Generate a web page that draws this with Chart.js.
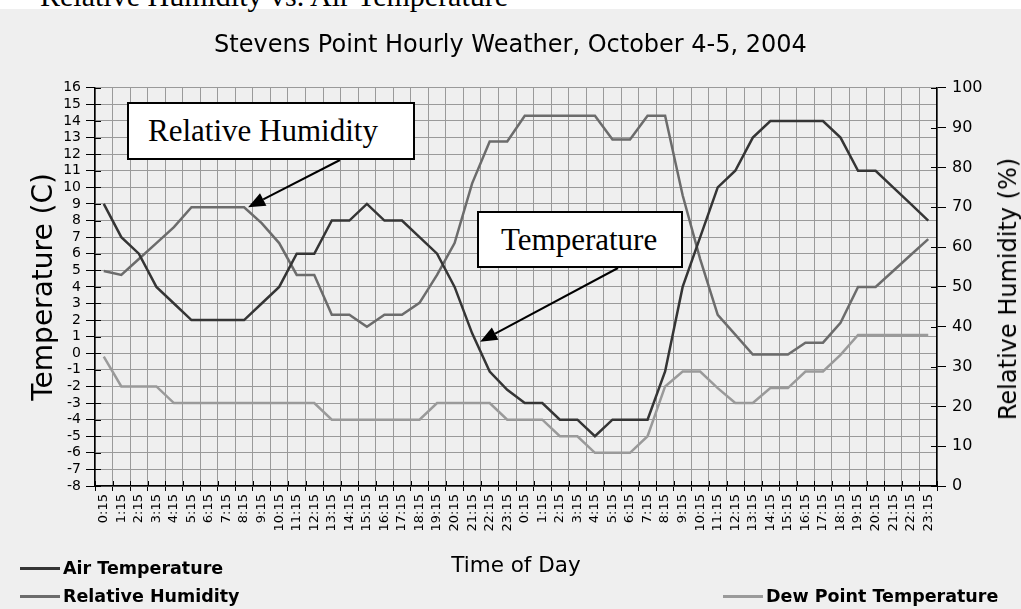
<!DOCTYPE html>
<html>
<head>
<meta charset="utf-8">
<script src="https://cdn.jsdelivr.net/npm/chart.js@4.4.1/dist/chart.umd.min.js"></script>
<style>
  html, body { margin: 0; padding: 0; }
  body {
    width: 1021px; height: 609px; overflow: hidden; position: relative;
    background: linear-gradient(#ffffff 0px, #ffffff 9px, #efefef 9px);
    font-family: 'DejaVu Sans', sans-serif;
  }
  #chart { position: absolute; left: 0; top: 0; }
  .caption {
    position: absolute; left: 40px; top: -19px; white-space: nowrap;
    font: 30px/30px 'Liberation Serif', serif; color: #000;
  }
  .callout {
    position: absolute; box-sizing: border-box; border: 2px solid #000; background: #fff;
    font: 31px 'Liberation Serif', serif; color: #000; white-space: nowrap;
    display: flex; align-items: center;
  }
  .ytitle-right {
    position: absolute; left: 1008px; top: 289px; white-space: nowrap;
    transform: translate(-50%, -50%) rotate(-90deg);
    font: 24px 'DejaVu Sans', sans-serif; color: #000;
  }
  .legend-item {
    position: absolute; display: flex; align-items: center; white-space: nowrap;
    font: bold 17.5px 'DejaVu Sans', sans-serif; color: #000; height: 20px;
  }
  .legend-item .swatch { display: inline-block; width: 40px; height: 3px; margin-right: 3px; }
</style>
</head>
<body>
<div class="caption">Relative Humidity vs. Air Temperature</div>
<canvas id="chart" width="1021" height="609"></canvas>
<div class="callout" style="left:127px; top:102px; width:288px; height:58px; padding-left:19px;">Relative Humidity</div>
<div class="callout" style="left:477px; top:211px; width:206px; height:57px; padding-left:22px;">Temperature</div>
<div class="ytitle-right">Relative Humidity (%)</div>
<div class="legend-item" style="left:20px; top:558px;"><span class="swatch" style="background:#353535"></span>Air Temperature</div>
<div class="legend-item" style="left:20px; top:586px;"><span class="swatch" style="background:#6c6c6c"></span>Relative Humidity</div>
<div class="legend-item" style="left:723px; top:586px;"><span class="swatch" style="background:#9a9a9a"></span>Dew Point Temperature</div>
<script>
const timeLabels = [
  "0:15", "1:15", "2:15", "3:15", "4:15", "5:15", "6:15", "7:15", "8:15", "9:15", "10:15", "11:15",
  "12:15", "13:15", "14:15", "15:15", "16:15", "17:15", "18:15", "19:15", "20:15", "21:15", "22:15", "23:15",
  "0:15", "1:15", "2:15", "3:15", "4:15", "5:15", "6:15", "7:15", "8:15", "9:15", "10:15", "11:15",
  "12:15", "13:15", "14:15", "15:15", "16:15", "17:15", "18:15", "19:15", "20:15", "21:15", "22:15", "23:15"
];

// degrees C
const airTemperature = [
  9, 7, 6, 4, 3, 2, 2, 2, 2, 3, 4, 6,
  6, 8, 8, 9, 8, 8, 7, 6, 4, 1.2, -1.1, -2.2,
  -3, -3, -4, -4, -5, -4, -4, -4, -1.1, 4, 7, 10,
  11, 13, 14, 14, 14, 14, 13, 11, 11, 10, 9, 8
];

// percent
const relativeHumidity = [
  54, 53, 57, 61, 65, 70, 70, 70, 70, 66, 61, 53,
  53, 43, 43, 40, 43, 43, 46, 53, 61, 76, 86.5, 86.5,
  93, 93, 93, 93, 93, 87, 87, 93, 93, 73, 57, 43,
  38, 33, 33, 33, 36, 36, 41, 50, 50, 54, 58, 62
];

// degrees C
const dewPoint = [
  -0.2, -2, -2, -2, -3, -3, -3, -3, -3, -3, -3, -3,
  -3, -4, -4, -4, -4, -4, -4, -3, -3, -3, -3, -4,
  -4, -4, -5, -5, -6, -6, -6, -5, -2, -1.1, -1.1, -2.1,
  -3, -3, -2.1, -2.1, -1.1, -1.1, -0.1, 1.1, 1.1, 1.1, 1.1, 1.1
];

const tempMin = -8, tempMax = 16, tempStep = 1;
const humidityMin = 0, humidityMax = 100, humidityStep = 10;

const AXIS_FONT = 'DejaVu Sans';
const GRID = '#9a9a9a';

function drawArrow(ctx, x0, y0, x1, y1) {
  const ang = Math.atan2(y1 - y0, x1 - x0);
  const len = 17, half = 7;
  const bx = x1 - Math.cos(ang) * len, by = y1 - Math.sin(ang) * len;
  ctx.beginPath();
  ctx.moveTo(x0, y0);
  ctx.lineTo(bx, by);
  ctx.stroke();
  ctx.beginPath();
  ctx.moveTo(x1, y1);
  ctx.lineTo(bx + Math.sin(ang) * half, by - Math.cos(ang) * half);
  ctx.lineTo(bx - Math.sin(ang) * half, by + Math.cos(ang) * half);
  ctx.closePath();
  ctx.fill();
}

// inner halves of the cross ticks, plus the callout arrows
const decorPlugin = {
  id: 'decor',
  beforeDatasetsDraw(chart) {
    const { ctx, chartArea, scales } = chart;
    ctx.save();
    ctx.strokeStyle = '#000';
    ctx.lineWidth = 1;
    ctx.beginPath();
    scales.y.ticks.forEach((t, i) => {
      const y = Math.round(scales.y.getPixelForTick(i)) + 0.5;
      ctx.moveTo(chartArea.left, y);
      ctx.lineTo(chartArea.left + 6, y);
    });
    scales.y1.ticks.forEach((t, i) => {
      const y = Math.round(scales.y1.getPixelForTick(i)) + 0.5;
      ctx.moveTo(chartArea.right - 6, y);
      ctx.lineTo(chartArea.right, y);
    });
    for (let i = 0; i <= timeLabels.length; i++) {
      const x = Math.round(scales.x.getPixelForValue(i - 0.5)) + 0.5;
      ctx.moveTo(x, chartArea.bottom);
      ctx.lineTo(x, chartArea.bottom - 5);
    }
    ctx.stroke();
    ctx.restore();
  },
  afterDraw(chart) {
    const { ctx, scales } = chart;
    ctx.save();
    ctx.strokeStyle = '#000';
    ctx.fillStyle = '#000';
    ctx.lineWidth = 2;
    drawArrow(ctx, 340, 160, scales.x.getPixelForValue(8) + 4, scales.y1.getPixelForValue(relativeHumidity[8]));
    drawArrow(ctx, 618, 268, scales.x.getPixelForValue(21) + 8, scales.y.getPixelForValue(0.7));
    ctx.restore();
  }
};

function makeDataset(label, data, color, axis) {
  return {
    label: label,
    data: data,
    borderColor: color,
    backgroundColor: color,
    borderWidth: 2.5,
    pointRadius: 0,
    tension: 0,
    fill: false,
    yAxisID: axis
  };
}

const ctx = document.getElementById('chart').getContext('2d');
new Chart(ctx, {
  type: 'line',
  data: {
    labels: timeLabels,
    datasets: [
      makeDataset('Air Temperature', airTemperature, '#353535', 'y'),
      makeDataset('Relative Humidity', relativeHumidity, '#6c6c6c', 'y1'),
      makeDataset('Dew Point Temperature', dewPoint, '#9a9a9a', 'y')
    ]
  },
  options: {
    responsive: false,
    animation: false,
    devicePixelRatio: 1,
    layout: { padding: 0 },
    plugins: {
      legend: { display: false },
      tooltip: { enabled: false },
      title: {
        display: true,
        text: 'Stevens Point Hourly Weather, October 4-5, 2004',
        color: '#000',
        font: { family: AXIS_FONT, size: 24, weight: 'normal' },
        padding: { top: 31, bottom: 28 }
      }
    },
    scales: {
      x: {
        type: 'category',
        offset: true,
        afterFit: (s) => { s.height = 123; },
        grid: { offset: true, color: GRID, lineWidth: 1, tickColor: '#000', tickLength: 5 },
        border: { color: '#000', width: 1.5 },
        ticks: {
          autoSkip: false, minRotation: 90, maxRotation: 90, padding: 3,
          color: '#000', font: { family: AXIS_FONT, size: 13 }
        },
        title: {
          display: true, text: 'Time of Day', color: '#000',
          font: { family: AXIS_FONT, size: 21.5 },
          padding: { top: 0, bottom: 30 }
        }
      },
      y: {
        position: 'left',
        min: tempMin, max: tempMax,
        afterFit: (s) => { s.width = 95; },
        grid: { color: GRID, lineWidth: 1, tickColor: '#000', tickLength: 9 },
        border: { color: '#000', width: 1.5 },
        ticks: {
          stepSize: tempStep, autoSkip: false, padding: 5,
          color: '#000', font: { family: AXIS_FONT, size: 14 }
        },
        title: {
          display: true, text: 'Temperature (C)', color: '#000',
          font: { family: AXIS_FONT, size: 28 },
          padding: { top: 28, bottom: 0 }
        }
      },
      y1: {
        position: 'right',
        min: humidityMin, max: humidityMax,
        afterFit: (s) => { s.width = 84; },
        grid: { drawOnChartArea: false, tickColor: '#000', tickLength: 9 },
        border: { color: '#000', width: 1.5 },
        ticks: {
          stepSize: humidityStep, autoSkip: false, padding: 6,
          color: '#000', font: { family: AXIS_FONT, size: 16 }
        }
      }
    }
  },
  plugins: [decorPlugin]
});
</script>
</body>
</html>
